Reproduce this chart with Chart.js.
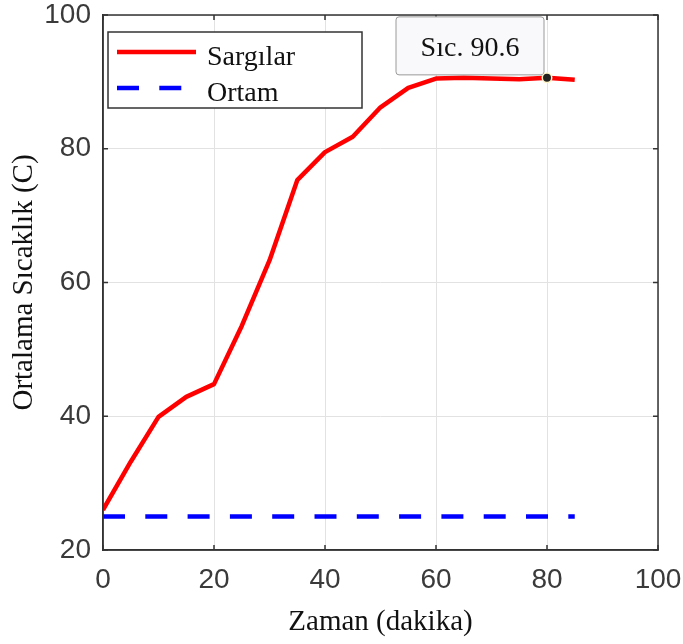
<!DOCTYPE html>
<html>
<head>
<meta charset="utf-8">
<script src="https://cdn.jsdelivr.net/npm/chart.js@4.4.1/dist/chart.umd.min.js"></script>
<style>
  html, body { margin: 0; padding: 0; background: #fff; }
  #wrap { width: 683px; height: 644px; }
</style>
</head>
<body>
<div id="wrap"><canvas id="chart" width="683" height="644"></canvas></div>
<script>
// Veriler
var zaman = [0, 5, 10, 15, 20, 25, 30, 35, 40, 45, 50, 55, 60, 65, 70, 75, 80, 85];
var sargilar = [26, 33.2, 39.9, 42.9, 44.8, 53.5, 63.3, 75.3, 79.5, 81.8, 86.2, 89.1, 90.5, 90.6, 90.5, 90.4, 90.6, 90.3];
var ortam = [25, 25, 25, 25, 25, 25, 25, 25, 25, 25, 25, 25, 25, 25, 25, 25, 25, 25];
var xTicks = [0, 20, 40, 60, 80, 100];
var yTicks = [20, 40, 60, 80, 100];
var tipIndex = 16; // veri ipucu x = 80

function points(xs, ys) {
    return xs.map(function (x, i) { return { x: x, y: ys[i] }; });
}

var serif = "'Liberation Serif', 'Times New Roman', serif";
var sans = "'Liberation Sans', Arial, sans-serif";
var frameColor = "#333333";

// etiket taşmasından gelen ek boşluğu kaldır
function noPad(s) {
    s.paddingTop = 0; s.paddingBottom = 0;
    s.paddingLeft = 0; s.paddingRight = 0;
}

// Çerçeve, iç tikler, lejant ve veri ipucu
var extras = {
    id: "extras",
    afterDraw: function (chart) {
        var c = chart.ctx;
        var a = chart.chartArea;
        var xs = chart.scales.x, ys = chart.scales.y;

        c.save();
        // kutu
        c.strokeStyle = frameColor;
        c.lineWidth = 1.5;
        c.strokeRect(a.left, a.top, a.right - a.left, a.bottom - a.top);
        // iç tikler
        c.beginPath();
        xTicks.forEach(function (t) {
            var px = xs.getPixelForValue(t);
            c.moveTo(px, a.bottom); c.lineTo(px, a.bottom - 5);
            c.moveTo(px, a.top); c.lineTo(px, a.top + 5);
        });
        yTicks.forEach(function (t) {
            var py = ys.getPixelForValue(t);
            c.moveTo(a.left, py); c.lineTo(a.left + 5, py);
            c.moveTo(a.right, py); c.lineTo(a.right - 5, py);
        });
        c.stroke();

        // lejant
        var lx = a.left + 5, ly = a.top + 17, lw = 254, lh = 76;
        c.fillStyle = "#fff";
        c.fillRect(lx, ly, lw, lh);
        c.strokeStyle = "#333";
        c.lineWidth = 1.5;
        c.strokeRect(lx, ly, lw, lh);
        c.font = "28px " + serif;
        c.textBaseline = "alphabetic";
        c.textAlign = "left";
        chart.data.datasets.forEach(function (ds, i) {
            var yy = ly + 20 + i * 36;
            c.beginPath();
            c.strokeStyle = ds.borderColor;
            c.lineWidth = ds.borderWidth;
            c.setLineDash(ds.borderDash || []);
            c.moveTo(lx + 9, yy);
            c.lineTo(lx + 88, yy);
            c.stroke();
            c.setLineDash([]);
            c.fillStyle = "#111";
            c.fillText(ds.label, lx + 99, yy + 13);
        });

        // veri ipucu
        var tx = xs.getPixelForValue(zaman[tipIndex]);
        var ty = ys.getPixelForValue(sargilar[tipIndex]);
        var bw = 148, bh = 58;
        var bx = tx - 3 - bw, by = ty - 3 - bh;
        c.beginPath();
        c.roundRect(bx, by, bw, bh, 3);
        c.fillStyle = "#f9f9fb";
        c.fill();
        c.strokeStyle = "#9a9a9a";
        c.lineWidth = 1;
        c.stroke();
        c.fillStyle = "#111";
        c.font = "28px " + serif;
        c.textAlign = "center";
        c.fillText("Sıc. " + sargilar[tipIndex].toFixed(1), bx + bw / 2, by + 39);
        c.beginPath();
        c.arc(tx, ty, 5.5, 0, Math.PI * 2);
        c.fillStyle = "#fff6c8";
        c.fill();
        c.beginPath();
        c.arc(tx, ty, 4, 0, Math.PI * 2);
        c.fillStyle = "#222";
        c.fill();
        c.restore();
    }
};

var ctx = document.getElementById("chart").getContext("2d");
new Chart(ctx, {
    type: "line",
    data: {
        datasets: [
            {
                label: "Sargılar",
                data: points(zaman, sargilar),
                borderColor: "#ff0000",
                borderWidth: 4.5,
                pointRadius: 0,
                borderJoinStyle: "round",
                tension: 0
            },
            {
                label: "Ortam",
                data: points(zaman, ortam),
                borderColor: "#0000ff",
                borderWidth: 4.5,
                borderDash: [22, 20.3],
                borderCapStyle: "butt",
                pointRadius: 0
            }
        ]
    },
    options: {
        responsive: false,
        animation: false,
        events: [],
        layout: { padding: { top: 15, right: 25, left: 0, bottom: 0 } },
        plugins: { legend: { display: false }, tooltip: { enabled: false } },
        scales: {
            x: {
                type: "linear",
                min: 0,
                max: 100,
                afterFit: function (s) { s.height = 94; noPad(s); },
                afterBuildTicks: function (s) { s.ticks = xTicks.map(function (v) { return { value: v }; }); },
                ticks: { font: { family: sans, size: 28 }, color: "#3a3a3a", padding: 13, maxRotation: 0 },
                grid: { color: "#e2e2e2", lineWidth: 1, drawTicks: false },
                border: { display: true, color: frameColor, width: 1.5 },
                title: {
                    display: true,
                    text: "Zaman (dakika)",
                    font: { family: serif, size: 29 },
                    color: "#111",
                    padding: { top: 0, bottom: 4 }
                }
            },
            y: {
                min: 20,
                max: 100,
                afterFit: function (s) { s.width = 103; noPad(s); },
                afterBuildTicks: function (s) { s.ticks = yTicks.map(function (v) { return { value: v }; }); },
                ticks: { font: { family: sans, size: 28 }, color: "#3a3a3a", padding: 12 },
                grid: { color: "#e2e2e2", lineWidth: 1, drawTicks: false },
                border: { display: true, color: frameColor, width: 1.5 },
                title: {
                    display: true,
                    text: "Ortalama Sıcaklık (C)",
                    font: { family: serif, size: 29 },
                    color: "#111",
                    padding: { top: 7, bottom: 0 }
                }
            }
        }
    },
    plugins: [extras]
});
</script>
</body>
</html>
